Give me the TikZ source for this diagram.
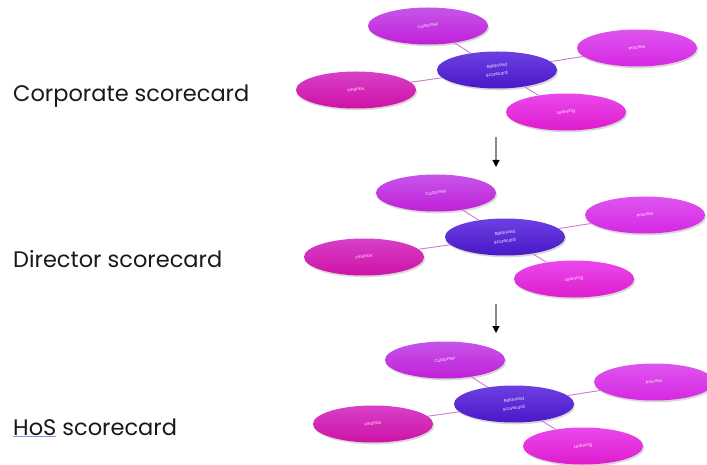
\documentclass[tikz,border=0pt]{standalone}
\usepackage{fontspec}
\setmainfont{Poppins}
\usepackage{graphicx}
\usetikzlibrary{shapes.geometric,shadows,arrows.meta}
\definecolor{custT}{HTML}{C655EA}
\definecolor{custB}{HTML}{C020D8}
\definecolor{procT}{HTML}{DE55F0}
\definecolor{procB}{HTML}{D628E2}
\definecolor{balT}{HTML}{6C40E2}
\definecolor{balB}{HTML}{4A18C8}
\definecolor{finT}{HTML}{D840C8}
\definecolor{finB}{HTML}{CE12A6}
\definecolor{lrnT}{HTML}{EA48EC}
\definecolor{lrnB}{HTML}{DE1CCE}
\definecolor{lineC}{HTML}{D27ACB}
\definecolor{ulblue}{HTML}{7A9AE0}
\definecolor{arrG}{HTML}{8A8A8A}
\tikzset{
  x=1pt, y=-1pt,
  bub/.style={ellipse, minimum width=120pt, minimum height=37pt, inner sep=0pt,
    drop shadow={opacity=0.3, shadow xshift=1.2pt, shadow yshift=-1.8pt},
    font=\fontsize{4.2}{5.2}\selectfont, text=white, align=center},
  cust/.style={bub, top color=custT, bottom color=custB},
  proc/.style={bub, top color=procT, bottom color=procB},
  bal/.style={bub, top color=balT, bottom color=balB},
  fin/.style={bub, top color=finT, bottom color=finB},
  lrn/.style={bub, top color=lrnT, bottom color=lrnB},
  conn/.style={draw=lineC, line width=0.9pt},
  lab/.style={anchor=base west, inner sep=0pt, font=\fontsize{22.5}{26}\selectfont, text=black!90},
  flow/.style={draw=arrG, line width=1.1pt, -{Triangle[length=7pt,width=7pt,color=black]}}
}
\newcommand{\rt}[1]{\rotatebox{8}{\begin{tabular}{@{}c@{}}#1\end{tabular}}}
\newcommand{\scgroup}[1]{%
  \node[cust] (#1c) at (428,26) {\rt{Customer}};
  \node[proc] (#1p) at (637,48) {\rt{Process}};
  \node[bal]  (#1b) at (497,70) {\rotatebox{8}{Balanced}\\[1.5pt]\rotatebox{8}{Scorecard}};
  \node[fin]  (#1f) at (356,90) {\rt{Finance}};
  \node[lrn]  (#1l) at (566,112) {\rt{Learning}};
  \draw[conn] (#1b) -- (#1c);
  \draw[conn] (#1b) -- (#1p);
  \draw[conn] (#1b) -- (#1f);
  \draw[conn] (#1b) -- (#1l);
}
\begin{document}
\begin{tikzpicture}
\useasboundingbox[fill=white] (0,0) rectangle (707,465);
\begin{scope}
  \scgroup{a}
\end{scope}
\begin{scope}[shift={(8,167)}]
  \scgroup{d}
\end{scope}
\begin{scope}[shift={(17,334)}]
  \scgroup{h}
\end{scope}
\node[lab] (l1) at (13,102) {Corporate scorecard};
\node[lab] (l2) at (13,267) {Director scorecard};
\node[lab] (l3) at (13,435) {{\color{ulblue}\underline{\color{black!90}HoS}} scorecard};
\coordinate (a1s) at (496,137);
\coordinate (a1e) at (496,167);
\coordinate (a2s) at (496,304);
\coordinate (a2e) at (496,333);
\draw[flow] (a1s) -- (a1e);
\draw[flow] (a2s) -- (a2e);
\end{tikzpicture}
\end{document}
